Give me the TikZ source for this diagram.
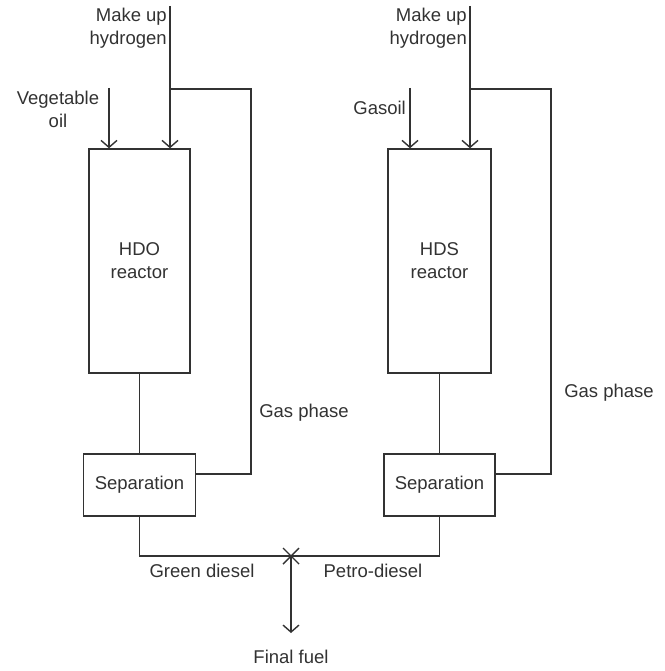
\documentclass[tikz,border=0pt]{standalone}
\usepackage{fontspec}
\setmainfont{Liberation Sans}
\usetikzlibrary{arrows.meta, positioning}
\definecolor{linecolor}{RGB}{50,50,50}

\begin{document}
\begin{tikzpicture}[x=1pt, y=-1pt,
    font=\fontsize{18.5}{23}\selectfont,
    unit/.style={rectangle, draw=linecolor, line width=1.4pt, align=center, inner sep=0pt, text=linecolor},
    flow/.style={draw=linecolor, line width=1.4pt},
    feed/.style={flow, -{Straight Barb[length=7pt, width=16pt, line width=1.4pt]}},
    lbl/.style={align=center, inner sep=0pt, text=linecolor}
]
\useasboundingbox (0,0) rectangle (664,671);

% --- Line 1: HDO ---
\node[unit, minimum width=101pt, minimum height=224pt] (hdo) at (139.5,261) {HDO\\reactor};
\node[unit, minimum width=112pt, minimum height=62pt] (sep1) at (139.5,485) {Separation};
\coordinate (h2in1) at (170,6);
\coordinate (oilin) at (109,88);
\coordinate (rec1) at (251,89);

\draw[feed] (h2in1) -- (h2in1 |- hdo.north);
\draw[feed] (oilin) -- (oilin |- hdo.north);
\draw[flow] (hdo.south) -- (sep1.north);
\draw[flow] ([yshift=11pt]sep1.east) -| (rec1) -- (h2in1 |- rec1);

\node[lbl, align=right, anchor=east] (mu1) at (167,28) {Make up\\hydrogen};
\node[lbl] (oil) at (58,109) {Vegetable\\oil};
\node[lbl] (gas1) at (304,413) {Gas phase};

% --- Line 2: HDS ---
\node[unit, minimum width=103pt, minimum height=224pt] (hds) at (439.5,261) {HDS\\reactor};
\node[unit, minimum width=111pt, minimum height=62pt] (sep2) at (439.5,485) {Separation};
\coordinate (h2in2) at (470,6);
\coordinate (gasoilin) at (410,88);
\coordinate (rec2) at (551,89);

\draw[feed] (h2in2) -- (h2in2 |- hds.north);
\draw[feed] (gasoilin) -- (gasoilin |- hds.north);
\draw[flow] (hds.south) -- (sep2.north);
\draw[flow] ([yshift=11pt]sep2.east) -| (rec2) -- (h2in2 |- rec2);

\node[lbl, align=right, anchor=east] (mu2) at (467,28) {Make up\\hydrogen};
\node[lbl, anchor=east] (gasoil) at (406,108) {Gasoil};
\node[lbl] (gas2) at (609,393) {Gas phase};

% --- Blending ---
\coordinate (mix) at (291,556);
\coordinate (fuel) at (291,633);
\draw[flow] (sep1.south) |- (mix) -| (sep2.south);
\draw[flow] ([shift={(-8pt,-8pt)}]mix) -- ([shift={(8pt,8pt)}]mix);
\draw[flow] ([shift={(-8pt,8pt)}]mix) -- ([shift={(8pt,-8pt)}]mix);
\draw[feed] (mix) -- (fuel);

\node[lbl] (green) at (202,571) {Green diesel};
\node[lbl] (petro) at (373,571) {Petro-diesel};
\node[lbl, below=17pt of fuel] (final) {Final fuel};
\end{tikzpicture}
\end{document}
